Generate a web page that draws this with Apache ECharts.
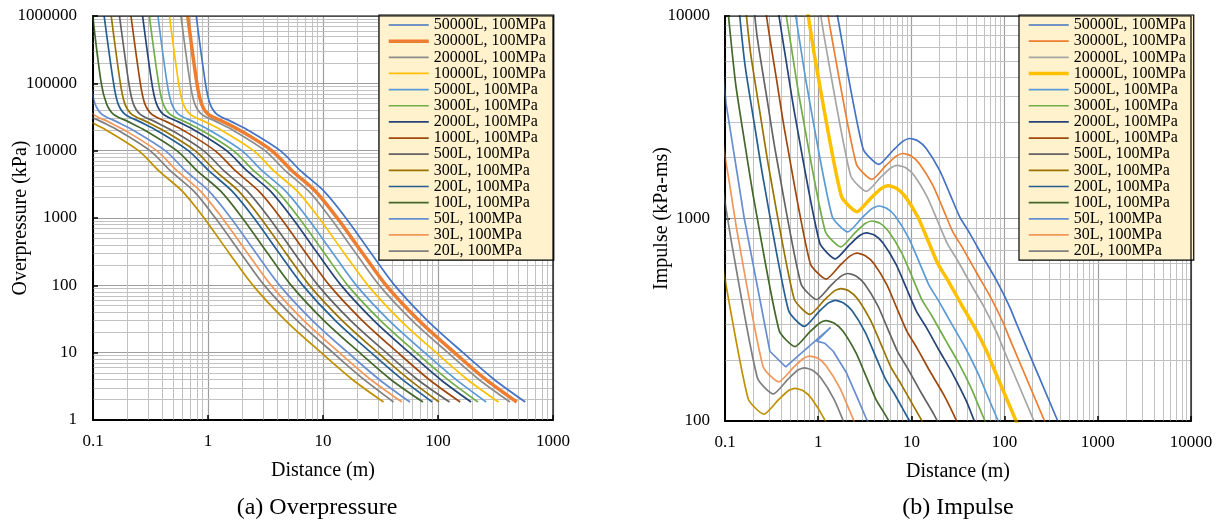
<!DOCTYPE html>
<html><head><meta charset="utf-8">
<script src="https://cdn.jsdelivr.net/npm/echarts@6/dist/echarts.min.js"></script>
<style>html,body{margin:0;padding:0;background:#fff}#c{width:1221px;height:523px}</style>
</head><body><div id="c"></div>
<script>
// ---------- Categories ----------
const volumes = ['50000L','30000L','20000L','10000L','5000L','3000L','2000L','1000L','500L','300L','200L','100L','50L','30L','20L','10L'];
const legendVolumes = volumes.slice(0, 15); // 10L is not shown in the legend
const colorsP = ['#4472C4','#ED7D31','#8C8C8C','#FFC000','#5B9BD5','#70AD47','#264478','#9E480E','#636363','#997300','#255E91','#43682B','#698ED0','#F1975A','#7F7F7F','#BF9000'];
const colorsI = ['#4472C4','#ED7D31','#A5A5A5','#FFC000','#5B9BD5','#70AD47','#264478','#9E480E','#636363','#997300','#255E91','#43682B','#698ED0','#F1975A','#7F7F7F','#BF9000'];

// ---------- (a) Overpressure: pressure levels (kPa) and distance (m) for each volume ----------
const pressureLevels = [1000000, 100000, 50000, 35000, 27000, 20000, 10000, 5000, 2500, 1000, 300, 100, 30, 10, 4, 1.85];
const distP50000 = [0.79, 0.95, 1.04, 1.19, 1.6, 2.25, 4.25, 6.4, 10.2, 15.8, 26.2, 42, 80.9, 165, 308, 574];
const distP30000 = [0.666, 0.801, 0.877, 1.00, 1.35, 1.90, 3.58, 5.40, 8.60, 13.3, 22.1, 35.4, 68.2, 139, 260, 484];
const distP20000 = [0.582, 0.700, 0.766, 0.877, 1.18, 1.66, 3.13, 4.72, 7.52, 11.6, 19.3, 30.9, 59.6, 122, 227, 423];
const distP10000 = [0.462, 0.556, 0.608, 0.696, 0.936, 1.32, 2.49, 3.74, 5.97, 9.24, 15.3, 24.6, 47.3, 96.5, 180, 336];
const distP5000  = [0.367, 0.441, 0.483, 0.552, 0.743, 1.04, 1.97, 2.97, 4.73, 7.33, 12.2, 19.5, 37.6, 76.6, 143, 262];
const distP3000  = [0.309, 0.372, 0.407, 0.466, 0.626, 0.881, 1.66, 2.51, 3.99, 6.19, 10.3, 16.4, 31.7, 64.6, 121, 222];
const distP2000  = [0.270, 0.325, 0.356, 0.407, 0.547, 0.770, 1.45, 2.19, 3.49, 5.40, 8.96, 14.4, 27.7, 56.4, 105, 194];
const distP1000  = [0.214, 0.258, 0.282, 0.323, 0.434, 0.611, 1.15, 1.74, 2.77, 4.29, 7.11, 11.4, 22.0, 44.8, 83.6, 156];
const distP500   = [0.170, 0.205, 0.224, 0.256, 0.345, 0.485, 0.915, 1.38, 2.20, 3.40, 5.64, 9.05, 17.4, 35.5, 66.3, 126];
const distP300   = [0.144, 0.173, 0.189, 0.216, 0.291, 0.409, 0.772, 1.16, 1.85, 2.87, 4.76, 7.63, 14.7, 30.0, 56.0, 102];
const distP200   = [0.125, 0.151, 0.165, 0.189, 0.254, 0.357, 0.674, 1.02, 1.62, 2.51, 4.16, 6.67, 12.8, 26.2, 48.9, 89];
const distP100   = [0.0995, 0.118, 0.131, 0.150, 0.202, 0.284, 0.536, 0.806, 1.29, 1.99, 3.30, 5.29, 10.2, 20.8, 38.8, 74];
const distP50    = [0.079, 0.095, 0.104, 0.119, 0.16, 0.225, 0.425, 0.64, 1.02, 1.58, 2.62, 4.2, 8.09, 16.5, 30.8, 57];
const distP30    = [0.0666, 0.0801, 0.0877, 0.100, 0.135, 0.190, 0.358, 0.540, 0.860, 1.33, 2.21, 3.54, 6.82, 13.9, 26.0, 48.5];
const distP20    = [0.0582, 0.0700, 0.0766, 0.0877, 0.118, 0.166, 0.313, 0.472, 0.752, 1.16, 1.93, 3.09, 5.96, 12.2, 22.7, 41];
const distP10    = [0.0462, 0.0556, 0.0608, 0.0696, 0.0936, 0.132, 0.249, 0.374, 0.597, 0.924, 1.53, 2.46, 4.73, 9.65, 18.0, 33.6];
const distP = [distP50000, distP30000, distP20000, distP10000, distP5000, distP3000, distP2000, distP1000, distP500, distP300, distP200, distP100, distP50, distP30, distP20, distP10];

// ---------- (b) Impulse: [distance (m), impulse (kPa-ms)] for each volume ----------
const imp50000 = [[1.337,17100],[1.61,10000],[3.03,2210],[4.48,1849],[6.37,2173],[8.15,2410],[9.62,2483],[11.8,2415],[14.5,2213],[20.1,1730],[25.8,1327],[33,1019],[42.3,844],[58.7,645],[81.6,496],[113,367],[134,303],[372,100]];
const imp30000 = [[0.867,31000],[1.13,14400],[1.36,8430],[2.56,1864],[3.78,1559],[5.37,1833],[6.87,2033],[8.11,2094],[9.95,2037],[12.2,1866],[17.0,1459],[21.8,1119],[27.8,859],[35.7,712],[49.5,544],[68.8,418],[95.3,310],[113,256],[314,84.3]];
const imp20000 = [[0.757,27100],[0.985,12600],[1.19,7370],[2.23,1628],[3.30,1362],[4.69,1601],[6.01,1776],[7.09,1829],[8.69,1779],[10.7,1631],[14.8,1275],[19.0,978],[24.3,751],[31.2,622],[43.3,475],[60.1,366],[83.3,270],[98.7,223],[274,73.7]];
const imp10000 = [[0.601,21500],[0.782,10000],[0.942,5848],[1.77,1292],[2.62,1081],[3.73,1271],[4.77,1409],[5.63,1452],[6.90,1412],[8.48,1294],[11.8,1012],[15.1,776],[19.3,596],[24.7,494],[34.3,377],[47.7,290],[66.1,215],[78.4,177],[218,58.5]];
const imp5000  = [[0.477,17100],[0.621,7938],[0.747,4642],[1.41,1026],[2.08,858],[2.96,1009],[3.78,1119],[4.47,1153],[5.48,1121],[6.73,1027],[9.33,803],[12.0,616],[15.3,473],[19.6,392],[27.3,299],[37.9,230],[52.5,170],[62.2,141],[173,46.4]];
const imp3000  = [[0.337,31100],[0.402,14400],[0.523,6695],[0.630,3915],[1.19,865],[1.75,724],[2.49,851],[3.19,944],[3.77,972],[4.62,946],[5.68,866],[7.87,677],[10.1,520],[12.9,399],[16.6,330],[23.0,253],[32.0,194],[44.2,144],[52.5,119],[146,39.2]];
const imp2000  = [[0.295,27200],[0.352,12600],[0.457,5848],[0.551,3420],[1.04,756],[1.53,632],[2.18,743],[2.79,824],[3.29,849],[4.04,826],[4.96,757],[6.87,592],[8.82,454],[11.3,349],[14.5,289],[20.1,221],[27.9,170],[38.7,126],[45.8,104],[127,34.2]];
const imp1000  = [[0.234,21500],[0.279,9988],[0.363,4641],[0.437,2714],[0.822,600],[1.22,502],[1.73,590],[2.21,654],[2.61,674],[3.20,655],[3.94,601],[5.46,470],[7.00,360],[8.96,277],[11.5,229],[15.9,175],[22.2,135],[30.7,99.6],[36.4,82.2]];
const imp500   = [[0.186,17100],[0.221,7927],[0.288,3683],[0.347,2154],[0.653,476],[0.965,398],[1.37,468],[1.76,519],[2.07,535],[2.54,520],[3.12,477],[4.33,373],[5.56,286],[7.11,220],[9.11,182],[12.6,139],[17.6,107],[24.3,79.1]];
const imp300   = [[0.157,14400],[0.187,6687],[0.243,3107],[0.293,1817],[0.551,402],[0.814,336],[1.16,395],[1.48,438],[1.75,451],[2.14,439],[2.64,402],[3.65,314],[4.69,241],[6.00,185],[7.69,153],[10.7,117],[14.8,90.1]];
const imp200   = [[0.137,12600],[0.163,5840],[0.212,2714],[0.256,1587],[0.481,351],[0.711,293],[1.01,345],[1.29,383],[1.53,394],[1.87,383],[2.30,351],[3.19,275],[4.09,211],[5.24,162],[6.71,134],[9.32,102],[13.0,78.7]];
const imp100   = [[0.109,10000],[0.130,4637],[0.168,2155],[0.203,1260],[0.382,279],[0.564,233],[0.803,274],[1.03,304],[1.21,313],[1.49,304],[1.83,279],[2.53,218],[3.25,167],[4.16,128],[5.33,106],[7.40,81.3]];
const imp50    = [[0.0862,7940],[0.1028,3680],[0.134,1710],[0.161,1000],[0.303,221],[0.448,185],[1.36,290],[0.962,248],[1.18,242],[1.45,221],[2.01,173],[2.58,133],[3.3,102],[4.23,84.4]];
const imp30    = [[0.0727,6697],[0.0867,3104],[0.113,1442],[0.136,843],[0.256,186],[0.378,156],[0.537,183],[0.687,203],[0.811,209],[0.995,204],[1.22,187],[1.70,146],[2.18,112],[2.78,85.9]];
const imp20    = [[0.0635,5850],[0.0757,2711],[0.0985,1260],[0.119,737],[0.223,163],[0.330,136],[0.469,160],[0.601,178],[0.709,183],[0.869,178],[1.07,163],[1.48,128],[1.90,97.8]];
const imp10    = [[0.0504,4643],[0.0601,2152],[0.0782,1000],[0.0942,585],[0.177,129],[0.262,108],[0.373,127],[0.477,141],[0.563,145],[0.690,141],[0.848,129],[1.18,101],[1.51,77.6]];
const impData = [imp50000, imp30000, imp20000, imp10000, imp5000, imp3000, imp2000, imp1000, imp500, imp300, imp200, imp100, imp50, imp30, imp20, imp10];

// ---------- Tick labels ----------
const xTicksP = ['0.1','1','10','100','1000'];
const yTicksP = ['1','10','100','1000','10000','100000','1000000'];
const xTicksI = ['0.1','1','10','100','1000','10000'];
const yTicksI = ['100','1000','10000'];

// ---------- helpers ----------
const FONT = '"Liberation Serif", "Times New Roman", serif';
function minorValues(minExp, maxExp) {
  const out = [];
  for (let e = minExp; e < maxExp; e++) for (let k = 2; k <= 9; k++) out.push(+(k * Math.pow(10, e)).toPrecision(3));
  return out;
}
function fmt(v) { return String(+Number(v).toPrecision(6)); }
const gridP = {left: 93, top: 16, width: 460, height: 404};
const gridI = {left: 725, top: 16, width: 466, height: 405};

function makeXAxis(idx, min, max) {
  return {
    type: 'log', logBase: 10, gridIndex: idx, min: min, max: max,
    axisLine: {show: true, onZero: false, lineStyle: {color: '#000', width: 2}},
    axisTick: {show: true, inside: true, length: 5, lineStyle: {color: '#000', width: 1.5}},
    axisLabel: {fontFamily: FONT, fontSize: 17, color: '#000', margin: 13, formatter: fmt},
    splitLine: {show: true, lineStyle: {color: '#9E9E9E', width: 1.2}},
    name: 'Distance (m)', nameLocation: 'middle', nameGap: 41, nameMoveOverlap: false,
    nameTextStyle: {fontFamily: FONT, fontSize: 20, color: '#000'}
  };
}
function makeYAxis(idx, min, max, name, gap, margin) {
  return {
    type: 'log', logBase: 10, gridIndex: idx, min: min, max: max,
    axisLine: {show: true, onZero: false, lineStyle: {color: '#000', width: 2}},
    axisTick: {show: true, inside: true, length: 5, lineStyle: {color: '#000', width: 1.5}},
    axisLabel: {fontFamily: FONT, fontSize: 17, color: '#000', margin: margin, formatter: fmt},
    splitLine: {show: true, lineStyle: {color: '#9E9E9E', width: 1.2}},
    name: name, nameLocation: 'middle', nameGap: gap, nameMoveOverlap: false,
    nameTextStyle: {fontFamily: FONT, fontSize: 20, color: '#000'}
  };
}
function gridSeries(idx, xMinExp, xMaxExp, yMinExp, yMaxExp) {
  const md = minorValues(xMinExp, xMaxExp).map(v => ({xAxis: v}))
    .concat(minorValues(yMinExp, yMaxExp).map(v => ({yAxis: v})));
  return {
    type: 'line', xAxisIndex: idx, yAxisIndex: idx, data: [[Math.pow(10, xMinExp), Math.pow(10, yMinExp)]],
    symbol: 'none', lineStyle: {opacity: 0}, silent: true, z: 1, legendHoverLink: false,
    markLine: {
      silent: true, symbol: ['none', 'none'], animation: false, z: 1,
      label: {show: false}, emphasis: {disabled: true},
      lineStyle: {color: '#C2C2C2', width: 1, type: 'solid'},
      data: md
    }
  };
}

const series = [gridSeries(0, -1, 3, 0, 6), gridSeries(1, -1, 4, 2, 4)];
volumes.forEach((v, i) => {
  series.push({
    name: 'P:' + v + ', 100MPa', type: 'line', xAxisIndex: 0, yAxisIndex: 0,
    data: distP[i].map((d, j) => [d, pressureLevels[j]]),
    symbol: 'none', smooth: 0.3, z: 3,
    lineStyle: {color: colorsP[i], width: v === '30000L' ? 3.5 : 1.7},
    itemStyle: {color: colorsP[i]}
  });
});
volumes.forEach((v, i) => {
  series.push({
    name: 'I:' + v + ', 100MPa', type: 'line', xAxisIndex: 1, yAxisIndex: 1,
    data: impData[i],
    symbol: 'none', smooth: v === '50L' ? false : 0.2, z: 3,
    lineStyle: {color: colorsI[i], width: v === '10000L' ? 3.5 : 1.7},
    itemStyle: {color: colorsI[i]}
  });
});

function makeLegend(prefix, left) {
  return {
    show: true, orient: 'vertical', left: left, top: 15, selectedMode: false,
    data: legendVolumes.map(v => prefix + v + ', 100MPa'),
    formatter: n => n.slice(2),
    itemWidth: 40, itemHeight: 4, itemGap: 0.15,
    itemStyle: {opacity: 0},
    lineStyle: {width: 'inherit'},
    textStyle: {fontFamily: FONT, fontSize: 16, color: '#000', lineHeight: 16},
    backgroundColor: '#FFF2CC', borderColor: '#000', borderWidth: 1.2,
    padding: [2, 8, 1, 8], z: 6
  };
}

const option = {
  animation: false,
  backgroundColor: '#fff',
  grid: [Object.assign({outerBoundsMode: 'none', containLabel: false}, gridP), Object.assign({outerBoundsMode: 'none', containLabel: false}, gridI)],
  xAxis: [makeXAxis(0, 0.1, 1000), makeXAxis(1, 0.1, 10000)],
  yAxis: [makeYAxis(0, 1, 1000000, 'Overpressure (kPa)', 62, 16), makeYAxis(1, 100, 10000, 'Impulse (kPa-ms)', 53, 15)],
  legend: [makeLegend('P:', 379), makeLegend('I:', 1019)],
  series: series,
  graphic: [
    {type: 'rect', silent: true, z: 20, shape: {x: gridP.left, y: gridP.top, width: gridP.width, height: gridP.height}, style: {fill: 'none', stroke: '#000', lineWidth: 1.2}},
    {type: 'rect', silent: true, z: 20, shape: {x: gridI.left, y: gridI.top, width: gridI.width, height: gridI.height}, style: {fill: 'none', stroke: '#000', lineWidth: 1.2}},
    {type: 'text', silent: true, x: 317, y: 508, style: {text: '(a) Overpressure', font: '24px ' + FONT, fill: '#000', align: 'center', verticalAlign: 'middle'}},
    {type: 'text', silent: true, x: 958, y: 508, style: {text: '(b) Impulse', font: '24px ' + FONT, fill: '#000', align: 'center', verticalAlign: 'middle'}}
  ]
};
const chart = echarts.init(document.getElementById('c'), null, {renderer: 'canvas'});
chart.setOption(option);
</script>
</body></html>
